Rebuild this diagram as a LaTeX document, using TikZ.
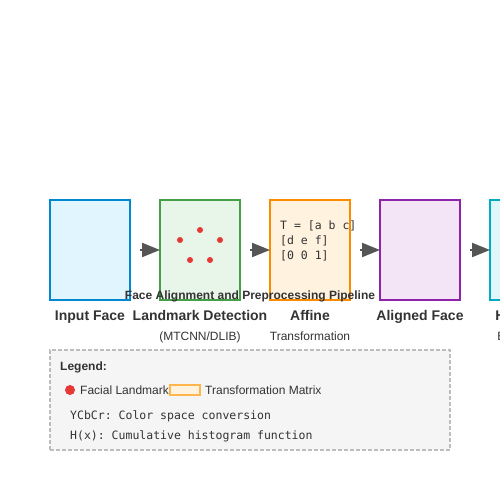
\documentclass[tikz,border=0pt]{standalone}
\usepackage{fontspec}
\setmainfont{Liberation Sans}
\setmonofont{DejaVu Sans Mono}
\usepackage{tikz}
\usetikzlibrary{positioning, arrows.meta}
\definecolor{txtgray}{HTML}{333333}
\definecolor{arrowgray}{HTML}{555555}
\definecolor{lmred}{HTML}{E53935}
\definecolor{inblue}{HTML}{0288D1}
\definecolor{inbluebg}{HTML}{E1F5FE}
\definecolor{lmgreen}{HTML}{43A047}
\definecolor{lmgreenbg}{HTML}{E8F5E9}
\definecolor{afforange}{HTML}{FB8C00}
\definecolor{afforangebg}{HTML}{FFF3E0}
\definecolor{alpurple}{HTML}{8E24AA}
\definecolor{alpurplebg}{HTML}{F3E5F5}
\definecolor{hecyan}{HTML}{00ACC1}
\definecolor{hecyanbg}{HTML}{E0F7FA}
\definecolor{legbg}{HTML}{F5F5F5}
\definecolor{legline}{HTML}{BDBDBD}
\definecolor{legorange}{HTML}{FFB74D}
\tikzstyle{stage}=[%
      rectangle, line width=2pt, minimum width=80pt, minimum height=100pt,
      inner sep=0pt, outer sep=0pt
]
\tikzstyle{lbl}=[%
      font=\fontsize{14}{16}\selectfont\bfseries, text=txtgray,
      inner sep=0pt, text height=10pt, text depth=3pt
]
\tikzstyle{sub}=[%
      font=\fontsize{12}{14}\selectfont, text=txtgray,
      inner sep=0pt, text height=8.6pt, text depth=2.5pt
]
\tikzstyle{mono}=[%
      font=\fontsize{11.5}{15}\selectfont\ttfamily, text=txtgray, inner sep=0pt, align=left
]
\tikzstyle{lm}=[%
      circle, fill=lmred, minimum size=6pt, inner sep=0pt
]

\begin{document}
\begin{tikzpicture}[x=1pt, y=1pt,
    flow/.style={%
      draw=arrowgray, line width=2pt, shorten <=10pt,
      -{Triangle[length=18pt,width=14pt]}
    },
]
    \useasboundingbox (0,0) rectangle (500,500);
    \clip (0,0) rectangle (500,500);
    % stages
    \node[stage, draw=inblue, fill=inbluebg]         (input)   at (90,250) {};
    \node[stage, draw=lmgreen, fill=lmgreenbg]       (detect)  [right = 30pt of input] {};
    \node[stage, draw=afforange, fill=afforangebg]   (affine)  [right = 30pt of detect] {};
    \node[stage, draw=alpurple, fill=alpurplebg]     (aligned) [right = 30pt of affine] {};
    \node[stage, draw=hecyan, fill=hecyanbg]         (histeq)  [right = 30pt of aligned] {};
    % landmarks
    \node[lm] (p1) at (200,270) {};
    \node[lm] (p2) at (180,260) {};
    \node[lm] (p3) at (220,260) {};
    \node[lm] (p4) at (190,240) {};
    \node[lm] (p5) at (210,240) {};
    % matrix
    \node[mono, anchor=north west] (mat) at (280,279.5) {T = [a b c]\\{[d e f]}\\{[0 0 1]}};
    \path (input)   edge[flow] (detect)
          (detect)  edge[flow] (affine)
          (affine)  edge[flow] (aligned)
          (aligned) edge[flow] (histeq)
    ;
    % labels
    \node[lbl]  (l1) [below = 10pt of input]   {Input Face};
    \node[lbl]  (l2) [below = 10pt of detect]  {Landmark Detection};
    \node[lbl]  (l3) [below = 10pt of affine]  {Affine};
    \node[lbl]  (l4) [below = 10pt of aligned] {Aligned Face};
    \node[lbl]  (l5) [below = 10pt of histeq]  {Histogram};
    \node[sub]  (s2) [below = 8.7pt of l2] {(MTCNN/DLIB)};
    \node[sub]  (s3) [below = 8.7pt of l3] {Transformation};
    \node[sub]  (s5) [below = 8.7pt of l5] {Equalization};
    \node[font=\fontsize{12}{14}\selectfont\bfseries, text=txtgray, inner sep=0pt]
        (title) at (250,204) {Face Alignment and Preprocessing Pipeline};
    % legend
    \node[rectangle, draw=legline, fill=legbg, line width=1.5pt, dash pattern=on 4pt off 2pt,
        minimum width=400pt, minimum height=100pt, inner sep=0pt] (legend) at (250,100) {};
    \node[font=\fontsize{12}{14}\selectfont\bfseries, text=txtgray, inner sep=0pt, anchor=west]
        (legtitle) at (60,133) {Legend:};
    \node[circle, fill=lmred, minimum size=10pt, inner sep=0pt] (legdot) at (70,110) {};
    \node[font=\fontsize{12}{14}\selectfont, text=txtgray, inner sep=0pt, anchor=west]
        (legdottxt) at (80,110) {Facial Landmark};
    \node[rectangle, draw=legorange, fill=afforangebg, line width=1.2pt,
        minimum width=30pt, minimum height=10pt, inner sep=0pt] (legbox) at (185,110) {};
    \node[font=\fontsize{12}{14}\selectfont, text=txtgray, inner sep=0pt, anchor=west]
        (legboxtxt) at (205,110) {Transformation Matrix};
    \node[mono, anchor=west] (ycbcr) at (70,83.5) {YCbCr: Color space conversion};
    \node[mono, anchor=west] (hx)    at (70,63.5) {H(x): Cumulative histogram function};
\end{tikzpicture}
\end{document}
